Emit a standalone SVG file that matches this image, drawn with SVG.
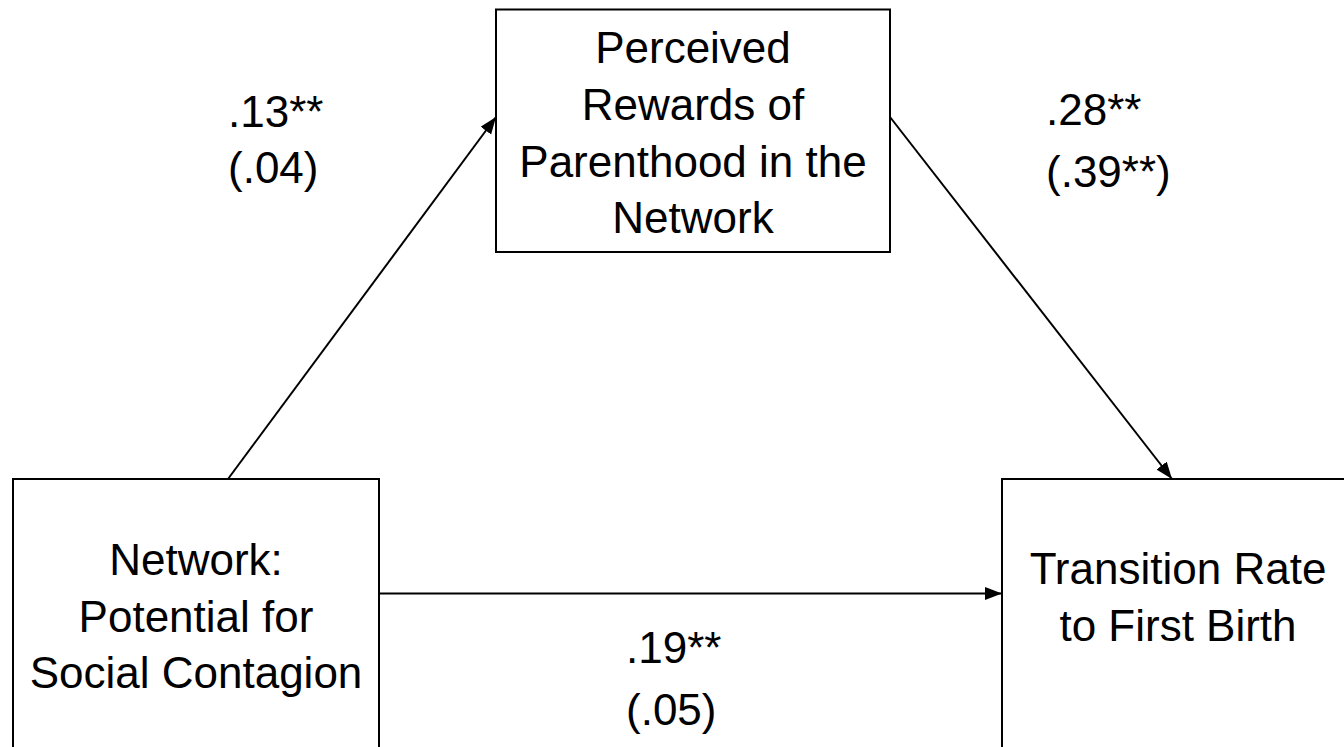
<svg xmlns="http://www.w3.org/2000/svg" width="1344" height="747" viewBox="0 0 1344 747">
<style>
.box{fill:#fff;stroke:#000;stroke-width:2}
.t{font-family:"Liberation Sans",Arial,sans-serif;font-size:44px;fill:#000}
.c{text-anchor:middle}
.conn{stroke:#000;stroke-width:2;fill:none}
</style>
<defs>
<marker id="arr" markerUnits="userSpaceOnUse" markerWidth="18" markerHeight="14" refX="17" refY="6.5" orient="auto">
<path d="M0,0 L17,6.5 L0,13 z" fill="#000"/>
</marker>
</defs>
<rect width="1344" height="747" fill="#fff"/>
<g id="connectors">
<line class="conn" x1="228" y1="479" x2="496" y2="117" marker-end="url(#arr)"/>
<line class="conn" x1="890" y1="117" x2="1172" y2="479" marker-end="url(#arr)"/>
<line class="conn" x1="379" y1="593.5" x2="1002" y2="593.5" marker-end="url(#arr)"/>
</g>
<g id="node-rewards">
<rect class="box" x="496" y="9.5" width="394" height="242.5"/>
<text class="t c" x="693" y="63">Perceived</text>
<text class="t c" x="693" y="120">Rewards of</text>
<text class="t c" x="693" y="177">Parenthood in the</text>
<text class="t c" x="693" y="233">Network</text>
</g>
<g id="node-network">
<rect class="box" x="13" y="479" width="366" height="300"/>
<text class="t c" x="196" y="575">Network:</text>
<text class="t c" x="196" y="632">Potential for</text>
<text class="t c" x="196" y="688">Social Contagion</text>
</g>
<g id="node-transition">
<rect class="box" x="1002" y="479" width="400" height="300"/>
<text class="t c" x="1178" y="584">Transition Rate</text>
<text class="t c" x="1178" y="641">to First Birth</text>
</g>
<g id="labels">
<text class="t" x="228" y="127">.13**</text>
<text class="t" x="228" y="183">(.04)</text>
<text class="t" x="1046" y="125">.28**</text>
<text class="t" x="1046" y="187">(.39**)</text>
<text class="t" x="626" y="663">.19**</text>
<text class="t" x="626" y="725">(.05)</text>
</g>
</svg>
